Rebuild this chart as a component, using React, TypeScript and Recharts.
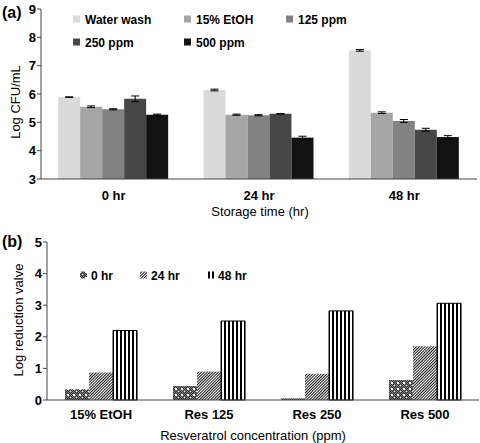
import React from "react";
import { BarChart, Bar, XAxis, YAxis, ErrorBar } from "recharts";

const FONT = '"Liberation Sans", Arial, Helvetica, sans-serif';

// (a) bacterial counts over storage
const storageTimes = ["0 hr", "24 hr", "48 hr"];
const waterWash = [5.89, 6.14, 7.54];
const etoh15 = [5.55, 5.27, 5.34];
const ppm125 = [5.46, 5.25, 5.05];
const ppm250 = [5.83, 5.3, 4.74];
const ppm500 = [5.27, 4.46, 4.48];
const waterWashErr = [0.01, 0.03, 0.03];
const etoh15Err = [0.03, 0.02, 0.03];
const ppm125Err = [0.02, 0.02, 0.05];
const ppm250Err = [0.1, 0.01, 0.05];
const ppm500Err = [0.02, 0.05, 0.05];
const ticksA = [3, 4, 5, 6, 7, 8, 9];

// (b) log reduction per treatment
const treatments = ["15% EtOH", "Res 125", "Res 250", "Res 500"];
const red0 = [0.34, 0.44, 0.05, 0.63];
const red24 = [0.87, 0.9, 0.83, 1.7];
const red48 = [2.2, 2.5, 2.82, 3.06];
const ticksB = [0, 1, 2, 3, 4, 5];

const seriesA = [
	{ key: "ww", name: "Water wash", color: "#dadada", values: waterWash, errors: waterWashErr },
	{ key: "et", name: "15% EtOH", color: "#a6a6a6", values: etoh15, errors: etoh15Err },
	{ key: "p125", name: "125 ppm", color: "#828282", values: ppm125, errors: ppm125Err },
	{ key: "p250", name: "250 ppm", color: "#474747", values: ppm250, errors: ppm250Err },
	{ key: "p500", name: "500 ppm", color: "#121212", values: ppm500, errors: ppm500Err },
];

const seriesB = [
	{ key: "h0", name: "0 hr", fill: "url(#pat0)", values: red0, stroke: "none" },
	{ key: "h24", name: "24 hr", fill: "url(#pat24)", values: red24, stroke: "none" },
	{ key: "h48", name: "48 hr", fill: "url(#pat48)", values: red48, stroke: "#000" },
];

const dataA = storageTimes.map((t, i) => {
	const row: Record<string, any> = { t };
	seriesA.forEach((s) => {
		row[s.key] = s.values[i];
		row[s.key + "Err"] = s.errors[i];
	});
	return row;
});

const dataB = treatments.map((t, i) => {
	const row: Record<string, any> = { t };
	seriesB.forEach((s) => (row[s.key] = s.values[i]));
	return row;
});

const tickStyle = { fontSize: 13, fontWeight: 700, fill: "#000", fontFamily: FONT };
const axisStroke = "#444";

function VTitle({ text, x, y }: { text: string; x: number; y: number }) {
	return (
		<text
			x={x}
			y={y}
			transform={`rotate(-90, ${x}, ${y})`}
			textAnchor="middle"
			dominantBaseline="central"
			fontSize={13}
			fontFamily={FONT}
			fill="#000"
		>
			{text}
		</text>
	);
}

function HTitle({ text, x, y }: { text: string; x: number; y: number }) {
	return (
		<text x={x} y={y} textAnchor="middle" fontSize={13} fontFamily={FONT} fill="#000">
			{text}
		</text>
	);
}

// checker cells for the 0 hr fill
const checker: [number, number][] = [];
for (let i = 0; i < 6; i++) for (let j = 0; j < 6; j++) if ((i + j) % 2 === 0) checker.push([i, j]);

function Patterns() {
	return (
		<defs>
			<pattern id="pat0" width="6" height="6" patternUnits="userSpaceOnUse">
				<rect width="6" height="6" fill="#7a7a7a" />
				{checker.map(([i, j]) => (
					<rect key={`${i}-${j}`} x={i} y={j} width="1" height="1" fill="#333" />
				))}
				<rect x="1" y="1" width="2" height="2" fill="#fff" />
				<rect x="4" y="4" width="1" height="1" fill="#eee" />
			</pattern>
			<pattern id="pat24" width="2" height="4" patternUnits="userSpaceOnUse" patternTransform="rotate(45)">
				<rect width="2" height="4" fill="#fff" />
				<rect width="0.9" height="4" fill="#000" />
			</pattern>
			<pattern id="pat48" width="4" height="4" patternUnits="userSpaceOnUse">
				<rect width="4" height="4" fill="#fff" />
				<rect width="2" height="4" fill="#000" />
			</pattern>
		</defs>
	);
}

const legendColsA = [73, 184, 286];
const legendRowsA = [19, 42];
const legendXB = [80, 140, 207];
const legendYB = 275;

export default function App() {
	return (
		<div style={{ position: "absolute", left: 0, top: 0, width: 480, height: 443, fontFamily: FONT }}>
			<div style={{ position: "absolute", left: 0, top: 0 }}>
				<BarChart width={480} height={222} data={dataA} margin={{ top: 9, right: 3, left: 0, bottom: 0 }} barCategoryGap="11.8%" barGap={0}>
					<XAxis dataKey="t" height={43} tickLine={false} tickMargin={6} tick={tickStyle} stroke={axisStroke} />
					<YAxis domain={[3, 9]} ticks={ticksA} width={41} tickSize={4} tickMargin={1} tick={tickStyle} stroke={axisStroke} />
					{seriesA.map((s) => (
						<Bar key={s.key} dataKey={s.key} name={s.name} fill={s.color} isAnimationActive={false}>
							<ErrorBar dataKey={s.key + "Err"} width={4} stroke="#000" strokeWidth={1} />
						</Bar>
					))}
				</BarChart>
			</div>
			<div style={{ position: "absolute", left: 0, top: 225 }}>
				<BarChart width={480} height={218} data={dataB} margin={{ top: 17, right: 1, left: 0, bottom: 0 }} barCategoryGap="16.7%" barGap={0}>
					<XAxis dataKey="t" height={43} tickLine={false} tickMargin={4} tick={tickStyle} stroke={axisStroke} />
					<YAxis domain={[0, 5]} ticks={ticksB} width={47} tickSize={4} tickMargin={1} tick={tickStyle} stroke={axisStroke} />
					{seriesB.map((s) => (
						<Bar key={s.key} dataKey={s.key} name={s.name} fill={s.fill} stroke={s.stroke} strokeWidth={1} isAnimationActive={false} />
					))}
				</BarChart>
			</div>
			<svg width={480} height={443} style={{ position: "absolute", left: 0, top: 0, pointerEvents: "none" }}>
				<Patterns />
				<text x={2} y={18} fontSize={16} fontWeight={700} fontFamily={FONT}>(a)</text>
				<text x={2} y={247} fontSize={16} fontWeight={700} fontFamily={FONT}>(b)</text>
				<VTitle text="Log CFU/mL" x={15} y={102} />
				<HTitle text="Storage time (hr)" x={260} y={216} />
				<VTitle text="Log reduction valve" x={18} y={320} />
				<HTitle text="Resveratrol concentration (ppm)" x={253} y={440} />
				{seriesA.map((s, i) => {
					const x = legendColsA[i % 3];
					const y = legendRowsA[Math.floor(i / 3)];
					return (
						<g key={s.key}>
							<rect x={x} y={y - 3.5} width={7} height={7} fill={s.color} />
							<text x={x + 12} y={y + 4.5} fontSize={12} fontWeight={700} fontFamily={FONT}>{s.name}</text>
						</g>
					);
				})}
				{seriesB.map((s, i) => {
					const x = legendXB[i];
					return (
						<g key={s.key}>
							<rect x={x} y={legendYB - 3.5} width={7} height={7} fill={s.fill} />
							<text x={x + 11} y={legendYB + 4.5} fontSize={12} fontWeight={700} fontFamily={FONT}>{s.name}</text>
						</g>
					);
				})}
			</svg>
		</div>
	);
}
